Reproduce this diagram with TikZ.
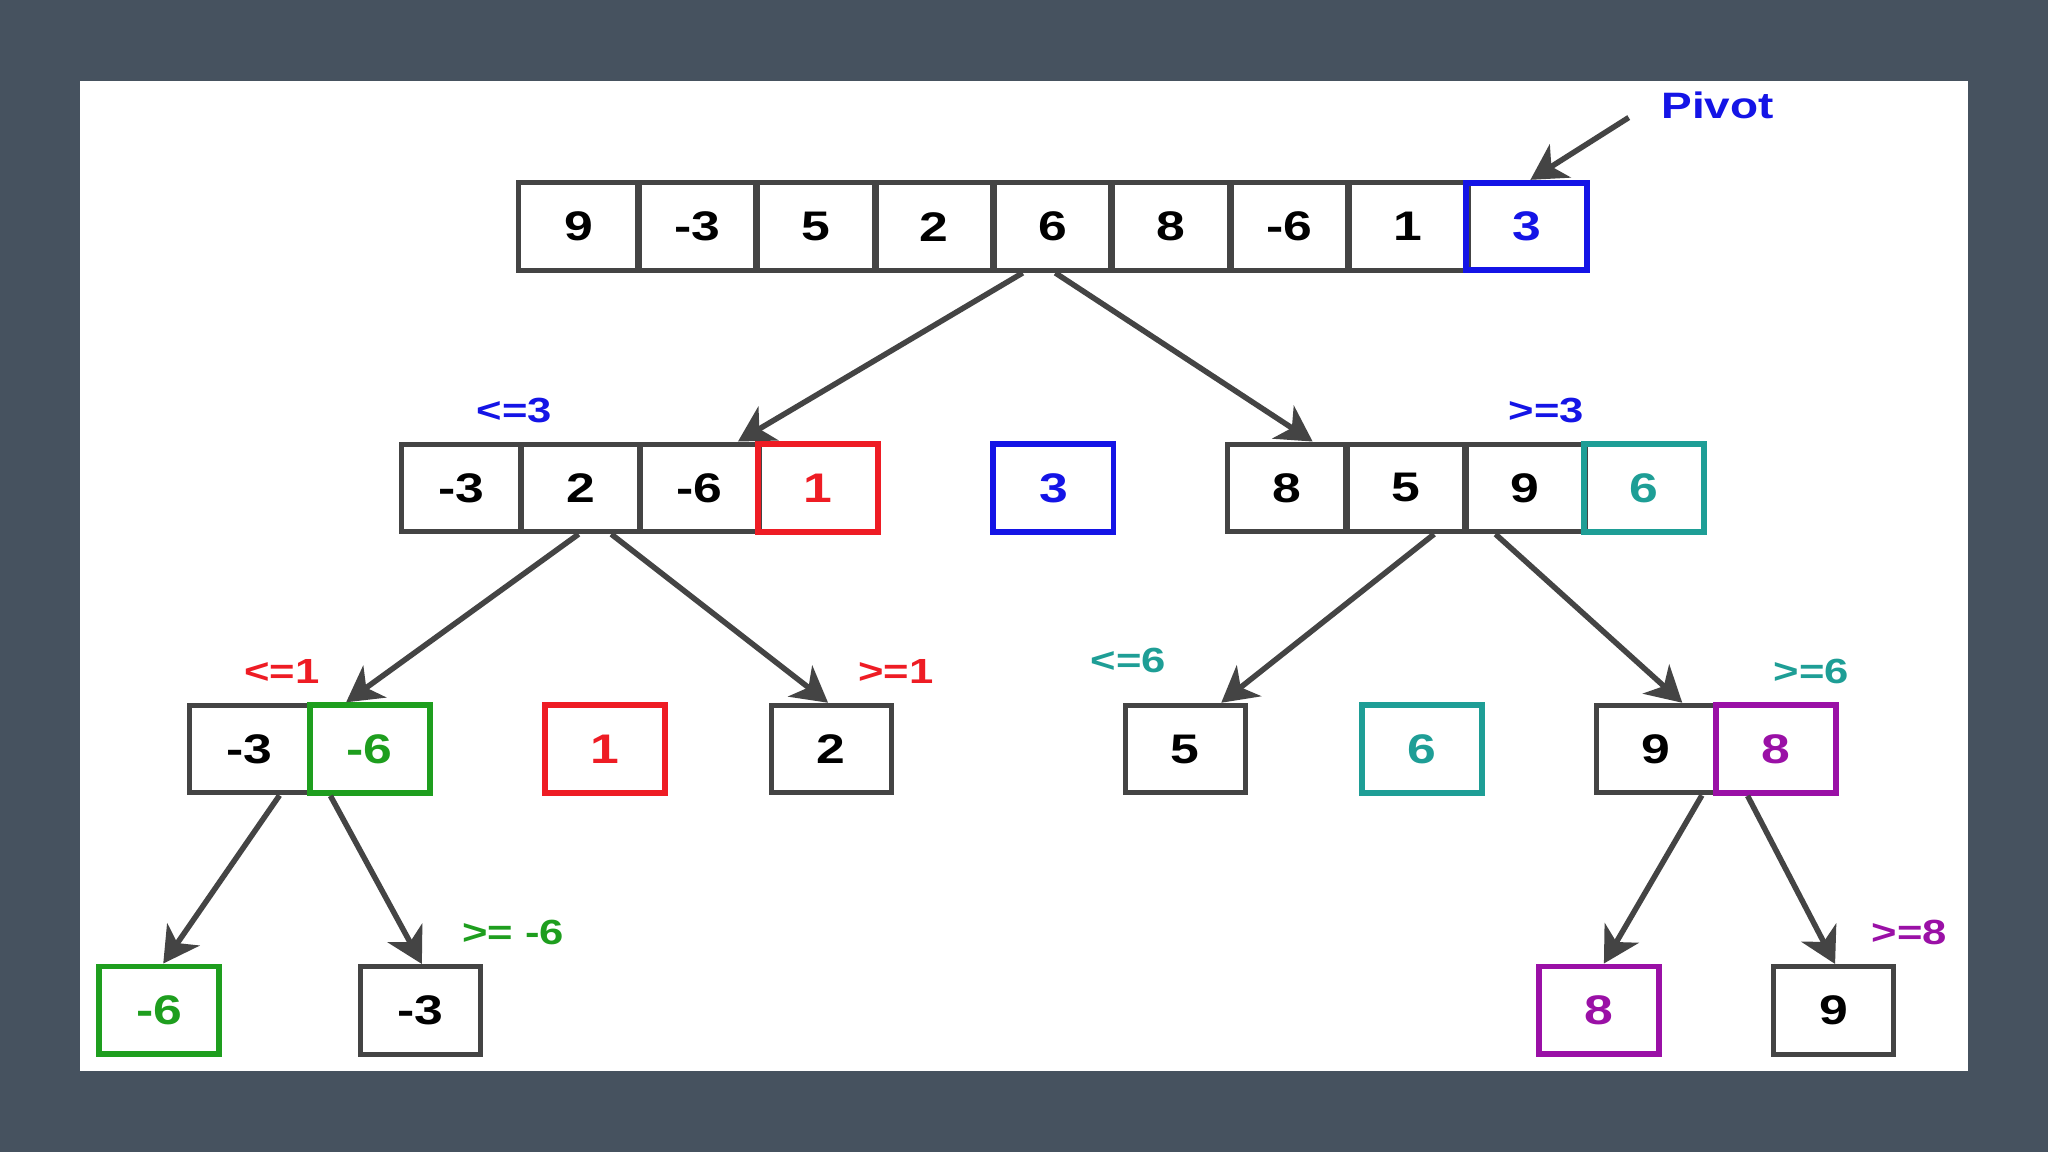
\documentclass[tikz,border=0pt]{standalone}
\usepackage{fontspec}
\setmainfont{Liberation Sans}[FakeStretch=1.25]
\usetikzlibrary{calc, arrows.meta}

\definecolor{bgslate}{HTML}{46525F}
\definecolor{boxgray}{HTML}{444444}
\definecolor{arrgray}{HTML}{444444}
\definecolor{pivblue}{HTML}{1414E6}
\definecolor{lored}{HTML}{EE1C24}
\definecolor{hiteal}{HTML}{1E9E96}
\definecolor{logreen}{HTML}{1E9E1E}
\definecolor{hipurple}{HTML}{9A10A6}

\begin{document}
\begin{tikzpicture}[
			x = 0.01cm, y = -0.01cm,
			cell/.style = {draw = boxgray, line width = 1.1pt, minimum width = 0.92cm,
				minimum height = 0.67cm, inner sep = 0pt, text = black,
				font = \fontsize{9}{11}\selectfont\bfseries},
			hicell/.style = {cell, draw = #1, text = #1, line width = 1.3pt},
			lbl/.style = {inner sep = 0pt, font = \fontsize{7.6}{9}\selectfont\bfseries},
			arr/.style = {draw = arrgray, line width = 1.2pt,
				-{Stealth[length = 0.27cm, width = 0.3cm, inset = 0.08cm]}}]
			% background and frame
			\fill[bgslate] (0,0) rectangle (1568,882);
			\fill[white] (61,62) rectangle (1507,820);

			% whole array
			\foreach \v [count=\i] in {9,-3,5,2,6,8,-6,1}
				\node[cell] (t\i) at ({443.3+(\i-1)*90.67},173.5) {\v};
			\node[hicell = pivblue] (t9) at (1168.7,173.5) {3};

			% first split
			\foreach \v [count=\i] in {-3,2,-6}
				\node[cell] (lo\i) at ({353.5+(\i-1)*91},373.5) {\v};
			\node[hicell = lored] (lo4) at (626.5,373.5) {1};
			\node[hicell = pivblue] (piv) at (806.5,373.5) {3};
			\foreach \v [count=\i] in {8,5,9}
				\node[cell] (hi\i) at ({985.5+(\i-1)*91},373.5) {\v};
			\node[hicell = hiteal] (hi4) at (1258.5,373.5) {6};

			% second split
			\node[cell] (lolo1) at (191,573.5) {-3};
			\node[hicell = logreen] (lolo2) at (283,573.5) {-6};
			\node[hicell = lored] (lopiv) at (463,573.5) {1};
			\node[cell] (lohi) at (636.5,573.5) {2};
			\node[cell] (hilo) at (907.5,573.5) {5};
			\node[hicell = hiteal] (hipiv) at (1088.5,573.5) {6};
			\node[cell] (hihi1) at (1268,573.5) {9};
			\node[hicell = hipurple] (hihi2) at (1360,573.5) {8};

			% third split
			\node[hicell = logreen] (lll) at (122,773.5) {-6};
			\node[cell] (llh) at (322,773.5) {-3};
			\node[hicell = hipurple] (hhl) at (1224,773.5) {8};
			\node[cell] (hhh) at (1404,773.5) {9};

			% Labels
			\node[lbl, text = pivblue, font = \fontsize{8}{9}\selectfont\bfseries] (pivlbl) at (1315,81) {Pivot};
			\node[lbl, text = pivblue] (lelo) at (394,314) {<=3};
			\node[lbl, text = pivblue] (gehi) at (1184,314) {>=3};
			\node[lbl, text = lored] (lelolo) at (216,514) {<=1};
			\node[lbl, text = lored] (gelohi) at (686,514) {>=1};
			\node[lbl, text = hiteal] (lehilo) at (864,506) {<=6};
			\node[lbl, text = hiteal] (gehihi) at (1387,514) {>=6};
			\node[lbl, text = logreen] (gellh) at (393,714) {>= -6};
			\node[lbl, text = hipurple] (gehhh) at (1462,714) {>=8};

			% arrows
			\coordinate (pivtail) at (1247,90);
			\draw[arr] (pivtail) -- ($(t9.north)+(3,0)$);
			\draw[arr] ($(t5.south)+(-23,0)$) -- ($(lo3.north)+(29.5,0)$);
			\draw[arr] ($(t5.south)+(2,0)$) -- ($(hi1.north)+(19.5,0)$);
			\draw[arr] ($(lo2.south)+(-1.5,0)$) -- ($(lolo2.north)+(-18,0)$);
			\draw[arr] ($(lo2.south)+(23.5,0)$) -- ($(lohi.north)+(-2.5,0)$);
			\draw[arr] ($(hi2.south)+(21.5,0)$) -- ($(hilo.north)+(27.5,0)$);
			\draw[arr] ($(hi3.south)+(-22.5,0)$) -- ($(hihi1.north)+(20,0)$);
			\draw[arr] ($(lolo1.south)+(23,0)$) -- ($(lll.north)+(3,0)$);
			\draw[arr] ($(lolo2.south)+(-30,0)$) -- ($(llh.north)+(1,0)$);
			\draw[arr] ($(hihi1.south)+(35,0)$) -- ($(hhl.north)+(4,0)$);
			\draw[arr] ($(hihi2.south)+(-22,0)$) -- ($(hhh.north)+(1,0)$);
		\end{tikzpicture}
\end{document}
